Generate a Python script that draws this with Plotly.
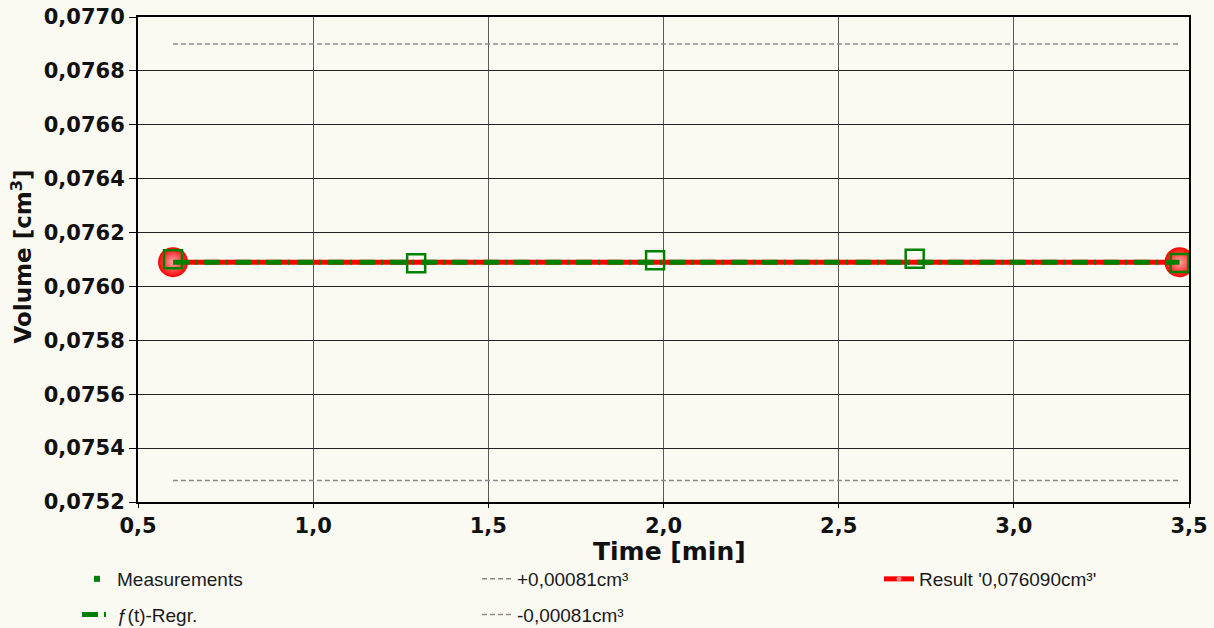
import plotly.graph_objects as go

# ---- data ----
meas_t = [0.6, 1.294, 1.976, 2.717, 3.473]
meas_v = [0.076101, 0.076086, 0.076097, 0.076103, 0.076087]

regr_t = [0.6, 3.473]
regr_v = [0.07609, 0.07609]

result_t = [0.6, 3.473]
result_v = [0.07609, 0.07609]

upper_t = [0.6, 3.473]
upper_v = [0.07690, 0.07690]
lower_t = [0.6, 3.473]
lower_v = [0.07528, 0.07528]

x_ticks = [0.5, 1.0, 1.5, 2.0, 2.5, 3.0, 3.5]
y_ticks = [0.0752, 0.0754, 0.0756, 0.0758, 0.0760, 0.0762, 0.0764, 0.0766, 0.0768, 0.0770]

x_title = "Time [min]"
y_title = "Volume [cm<sup>3</sup>]"

names = {
    "meas": "Measurements",
    "regr": "ƒ(t)-Regr.",
    "upper": "+0,00081cm³",
    "lower": "-0,00081cm³",
    "result": "Result '0,076090cm³'",
}

BG = "#FAF9F2"
GREEN = "#008000"
RED = "#FF0000"
GRAY = "#8A8A8A"

fig = go.Figure()

# tolerance bands
fig.add_trace(go.Scatter(x=upper_t, y=upper_v, mode="lines", name=names["upper"],
                         line=dict(color=GRAY, width=1.5, dash="5px,3px"),
                         legend="legend2", legendgroup="up", legendrank=1))
fig.add_trace(go.Scatter(x=lower_t, y=lower_v, mode="lines", name=names["lower"],
                         line=dict(color=GRAY, width=1.5, dash="5px,3px"),
                         legend="legend2", legendgroup="lo", legendrank=2))

# result line with end circles
fig.add_trace(go.Scatter(x=result_t, y=result_v, mode="lines+markers", showlegend=False,
                         line=dict(color=RED, width=5),
                         marker=dict(symbol="circle", size=30, color=RED,
                                     gradient=dict(type="radial", color="#FFA8A8"),
                                     line=dict(width=0))))
fig.add_trace(go.Scatter(x=[None], y=[None], mode="lines+markers", name=names["result"],
                         line=dict(color=RED, width=5),
                         marker=dict(symbol="circle", size=5, color="#FF8080"),
                         legend="legend3", legendgroup="res"))

# regression
fig.add_trace(go.Scatter(x=regr_t, y=regr_v, mode="lines", name=names["regr"],
                         line=dict(color=GREEN, width=5, dash="16px,6px,2px,7px"),
                         legend="legend", legendgroup="regr", legendrank=2))

# measurements
fig.add_trace(go.Scatter(x=meas_t, y=meas_v, mode="markers", showlegend=False,
                         marker=dict(symbol="square-open", size=18, color=GREEN,
                                     line=dict(color=GREEN, width=2.5))))
fig.add_trace(go.Scatter(x=[None], y=[None], mode="markers", name=names["meas"],
                         marker=dict(symbol="square", size=6, color=GREEN),
                         legend="legend", legendgroup="meas", legendrank=1))

tick_font_b = dict(family="DejaVu Sans", size=21, color="#111111", weight="bold")

leg_font = dict(family="Liberation Sans", size=19, color="#1A1A1A")
leg_common = dict(orientation="v", xref="container", yref="container",
                  yanchor="top", xanchor="left", bgcolor="rgba(0,0,0,0)",
                  font=leg_font, tracegroupgap=8, itemwidth=30)

fig.update_layout(
    width=1214, height=628,
    paper_bgcolor=BG, plot_bgcolor=BG,
    separators=",.",
    margin=dict(l=138, r=25, t=17, b=126, autoexpand=False),
    showlegend=True,
    legend=dict(x=77 / 1214, y=1 - 560 / 628, **leg_common),
    legend2=dict(x=477 / 1214, y=1 - 560 / 628, **leg_common),
    legend3=dict(x=879 / 1214, y=1 - 560 / 628, **leg_common),
    xaxis=dict(range=[0.5, 3.5], tickvals=x_ticks, tickformat=".1f",
               showgrid=True, gridcolor="#5A5A5A", gridwidth=1,
               showline=True, linecolor="#000000", linewidth=2, mirror=True,
               ticks="outside", ticklen=4, tickcolor="#000000",
               tickfont=tick_font_b, zeroline=False, tickangle=0, automargin=False),
    yaxis=dict(range=[0.0752, 0.0770], tickvals=y_ticks, tickformat=".4f",
               showgrid=True, gridcolor="#222222", gridwidth=1,
               showline=True, linecolor="#000000", linewidth=2, mirror=True,
               ticks="outside", ticklen=7, tickcolor="#000000",
               tickfont=tick_font_b, zeroline=False, automargin=False),
    annotations=[
        dict(text=x_title, xref="paper", yref="paper", x=0.5, y=0,
             xanchor="center", yanchor="middle", xshift=6, yshift=-49, showarrow=False,
             font=dict(family="DejaVu Sans", size=25, color="#111111", weight="bold")),
        dict(text=y_title, xref="paper", yref="paper", x=0, y=0.5, textangle=-90,
             xanchor="center", yanchor="middle", xshift=-117, yshift=3, showarrow=False,
             font=dict(family="DejaVu Sans", size=23, color="#111111", weight="bold")),
    ],
)

fig.write_html("out.html", config={"displayModeBar": False},
               post_script="document.body.style.margin='0';document.body.style.overflow='hidden';")
